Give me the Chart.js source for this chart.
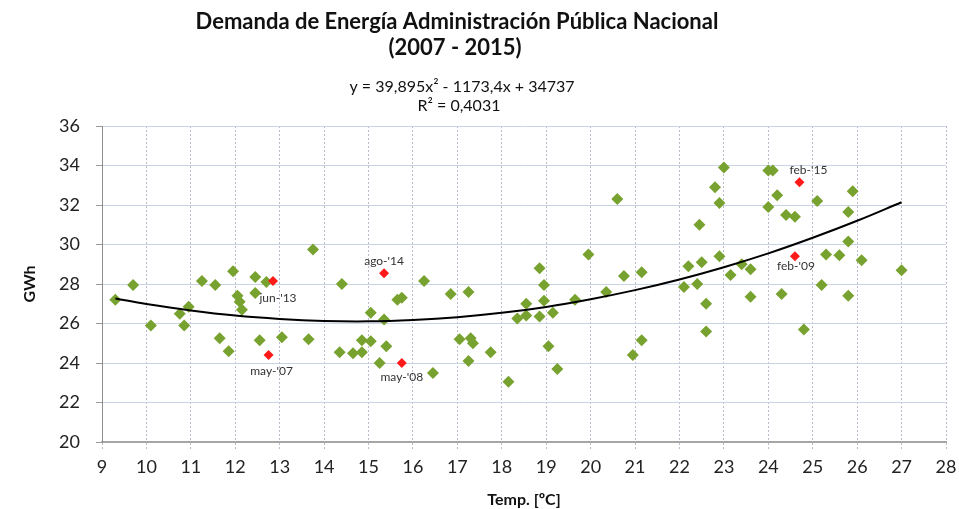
<!DOCTYPE html>
<html lang="es">
<head>
  <meta charset="UTF-8" />
  <title>Demanda de Energía Administración Pública Nacional</title>
  <style>
    body {
      margin: 0;
      background-color: #fff;
      overflow: hidden;
    }
    #wrap {
      width: 959px;
      height: 509px;
    }
  </style>
</head>
<body>
  <div id="wrap">
    <canvas id="demandChart" width="959" height="509"></canvas>
  </div>

  <script src="https://cdn.jsdelivr.net/npm/chart.js"></script>
  <script>
    // puntos mensuales (temperatura media vs demanda)
    const monthTemp = [
      9.3, 9.7, 10.1, 10.75, 10.85, 10.95, 11.25, 11.55, 11.65, 11.85,
      11.95, 12.05, 12.1, 12.15, 12.45, 12.45, 12.55, 12.7, 13.05, 13.65,
      13.75, 14.4, 14.35, 14.65, 14.85, 14.85, 15.05, 15.05, 15.35, 15.25,
      15.4, 15.65, 15.75, 16.25, 16.45, 16.85, 17.05, 17.25, 17.3, 17.35,
      17.25, 17.75, 18.15, 18.35, 18.55, 18.55, 18.85, 18.95, 18.95, 18.85,
      19.15, 19.05, 19.25, 19.95, 19.65, 20.35, 20.6, 20.75, 21.15, 20.95,
      21.15, 22.2, 22.5, 22.9, 22.1, 22.4, 22.6, 22.6, 23.15, 23.0,
      22.8, 22.9, 22.45, 24.0, 24.1, 24.2, 24.0, 24.4, 24.6, 25.1,
      25.9, 25.8, 25.8, 23.4, 23.6, 25.3, 25.6, 26.1, 27.0, 23.6,
      24.3, 25.2, 25.8, 24.8
    ];
    const monthGwh = [
      27.2, 27.95, 25.9, 26.5, 25.9, 26.85, 28.15, 27.95, 25.25, 24.6,
      28.65, 27.4, 27.1, 26.7, 28.35, 27.55, 25.15, 28.1, 25.3, 25.2,
      29.75, 28.0, 24.55, 24.5, 25.15, 24.55, 25.1, 26.55, 26.2, 24.0,
      24.85, 27.2, 27.3, 28.15, 23.5, 27.5, 25.2, 27.6, 25.25, 25.0,
      24.1, 24.55, 23.05, 26.25, 26.4, 27.0, 28.8, 27.95, 27.15, 26.35,
      26.55, 24.85, 23.7, 29.5, 27.2, 27.6, 32.3, 28.4, 28.6, 24.4,
      25.15, 28.9, 29.1, 29.4, 27.85, 28.0, 27.0, 25.6, 28.45, 33.9,
      32.9, 32.1, 31.0, 33.75, 33.75, 32.5, 31.9, 31.5, 31.4, 32.2,
      32.7, 31.65, 30.15, 29.0, 28.75, 29.5, 29.45, 29.2, 28.7, 27.35,
      27.5, 27.95, 27.4, 25.7
    ];

    // meses destacados
    const markTemp = [12.85, 12.75, 15.35, 15.75, 24.7, 24.6];
    const markGwh = [28.15, 24.4, 28.55, 24.0, 33.15, 29.4];
    const markLabels = ["jun-'13", "may-'07", "ago-'14", "may-'08", "feb-'15", "feb-'09"];

    // linea de tendencia polinomica
    const trendTemp = [9.3, 10, 11, 12, 13, 14, 15, 16, 17, 18, 19, 20, 21, 22, 23, 24, 25, 26, 27];
    const trendGwh = [27.27, 26.99, 26.66, 26.40, 26.23, 26.13, 26.11, 26.18, 26.32, 26.54,
                      26.84, 27.23, 27.69, 28.23, 28.85, 29.55, 30.34, 31.20, 32.14];

    const titleLines = ['Demanda de Energía Administración Pública Nacional', '(2007 - 2015)'];
    const fitLines = ['y = 39,895x² - 1173,4x + 34737', 'R² = 0,4031'];

    const xMin = 9, xMax = 28, xStep = 1;
    const yMin = 20, yMax = 36, yStep = 2;

    // donde va cada etiqueta respecto a su punto
    const labelOffsets = [[5, 17], [3, 16], [0, -12], [0, 14], [9, -12], [1, 10]];

    const toPoints = (xs, ys) => xs.map((x, i) => ({ x: x, y: ys[i] }));

    const textPlugin = {
      id: 'chartTexts',
      afterDraw(chart) {
        const ctx = chart.ctx;
        ctx.save();
        ctx.fillStyle = '#111';
        ctx.textAlign = 'center';
        ctx.textBaseline = 'middle';
        ctx.font = 'bold 22px Lato';
        ctx.fillText(titleLines[0], 457, 22);
        ctx.fillText(titleLines[1], 455, 48);
        ctx.font = '16px Lato';
        ctx.fillText(fitLines[0], 462, 87);
        ctx.fillText(fitLines[1], 459, 106);

        ctx.font = '12px Lato';
        ctx.fillStyle = '#333';
        const meta = chart.getDatasetMeta(1);
        meta.data.forEach((pt, i) => {
          ctx.fillText(markLabels[i], pt.x + labelOffsets[i][0], pt.y + labelOffsets[i][1]);
        });
        ctx.restore();
      }
    };

    const ctx = document.getElementById('demandChart').getContext('2d');
    const demandChart = new Chart(ctx, {
      type: 'scatter',
      data: {
        datasets: [
          {
            label: 'Meses',
            data: toPoints(monthTemp, monthGwh),
            pointStyle: 'rectRot',
            pointRadius: 6,
            backgroundColor: '#78a22f',
            borderColor: '#78a22f',
            borderWidth: 0,
            order: 3
          },
          {
            label: 'Destacados',
            data: toPoints(markTemp, markGwh),
            pointStyle: 'rectRot',
            pointRadius: 5,
            backgroundColor: '#ff1a1a',
            borderColor: '#ff1a1a',
            borderWidth: 0,
            order: 2
          },
          {
            label: 'Tendencia',
            data: toPoints(trendTemp, trendGwh),
            showLine: true,
            pointRadius: 0,
            borderColor: '#000',
            borderWidth: 2,
            tension: 0.4,
            order: 1
          }
        ]
      },
      options: {
        responsive: false,
        animation: false,
        layout: {
          padding: { top: 126, right: 13, left: 0, bottom: 0 }
        },
        plugins: {
          legend: { display: false },
          tooltip: { enabled: false }
        },
        scales: {
          x: {
            type: 'linear',
            min: xMin,
            max: xMax,
            ticks: {
              stepSize: xStep,
              color: '#222',
              font: { family: 'Lato', size: 18 },
              padding: 6
            },
            grid: {
              color: '#b9bccb',
              lineWidth: 1,
              tickLength: 8,
              tickBorderDash: [2, 2]
            },
            border: {
              color: '#a6a6a6',
              width: 2,
              dash: [2, 2]
            },
            title: {
              display: true,
              text: 'Temp. [ºC]',
              color: '#111',
              font: { family: 'Lato', size: 16, weight: 'bold' },
              padding: { top: 4, bottom: 0 }
            },
            afterFit(scale) {
              scale.height = 67;
              scale.paddingRight = 0; // el "28" puede salirse un poco
            }
          },
          y: {
            min: yMin,
            max: yMax,
            ticks: {
              stepSize: yStep,
              color: '#222',
              font: { family: 'Lato', size: 18 },
              padding: 16
            },
            grid: {
              color: '#c8d3e6',
              lineWidth: 1,
              tickLength: 6,
              tickColor: '#999'
            },
            border: {
              color: '#8c8c8c',
              width: 1
            },
            title: {
              display: true,
              text: 'GWh',
              color: '#111',
              font: { family: 'Lato', size: 16, weight: 'bold' },
              padding: { top: 20, bottom: 0 }
            },
            afterFit(scale) { scale.width = 102; }
          }
        }
      },
      plugins: [textPlugin]
    });
  </script>
</body>
</html>
